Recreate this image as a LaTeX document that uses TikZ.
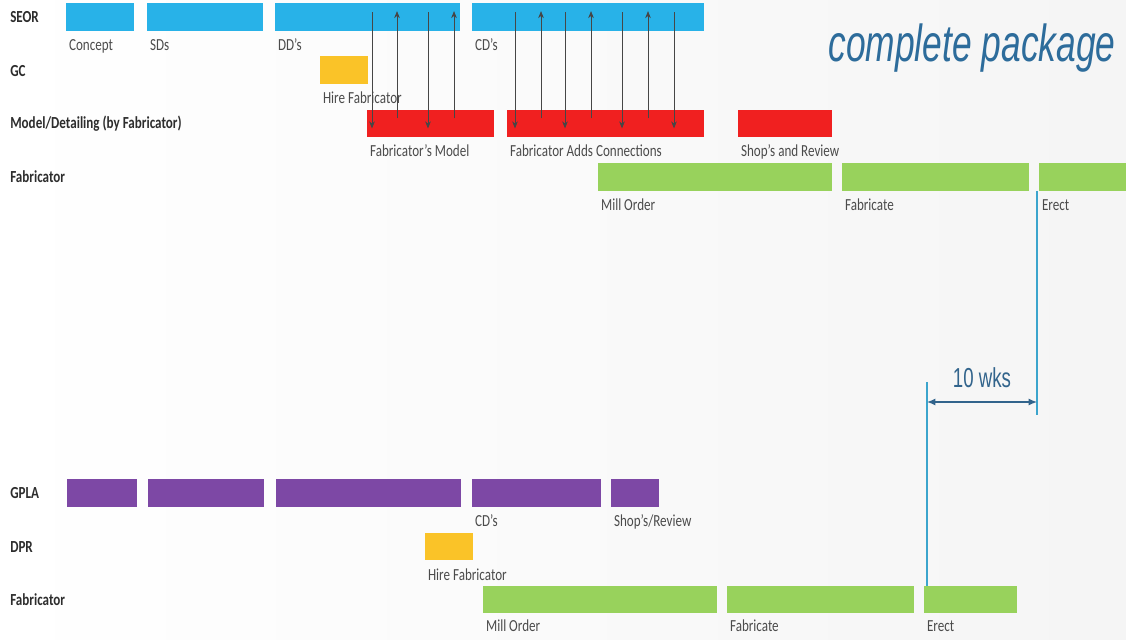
\documentclass[tikz,border=0pt]{standalone}
\usepackage{fontspec}
\setmainfont{Carlito}[FakeStretch=0.775]
\newfontfamily\bigfont{Liberation Sans}[FakeStretch=0.68]
\usepackage{tikz}
\usetikzlibrary{arrows.meta, positioning}
\definecolor{seorblue}{RGB}{40,178,232}
\definecolor{gcyellow}{RGB}{250,195,40}
\definecolor{modelred}{RGB}{240,32,32}
\definecolor{fabgreen}{RGB}{152,210,92}
\definecolor{gplapurple}{RGB}{125,72,165}
\definecolor{rowgray}{RGB}{45,45,45}
\definecolor{labelgray}{RGB}{75,75,75}
\definecolor{linkgray}{RGB}{70,70,70}
\definecolor{guideblue}{RGB}{60,165,205}
\definecolor{dimblue}{RGB}{50,100,140}
\definecolor{titleblue}{RGB}{45,108,155}
\tikzset{
    taskbar/.style={rectangle, anchor=west, minimum height=0.68cm, inner sep=0pt},
    seorbar/.style={taskbar, fill=seorblue},
    gcbar/.style={taskbar, fill=gcyellow},
    modelbar/.style={taskbar, fill=modelred},
    fabbar/.style={taskbar, fill=fabgreen},
    gplabar/.style={taskbar, fill=gplapurple},
    rowlbl/.style={anchor=west, inner sep=0pt, font=\fontsize{12}{14}\selectfont\bfseries, text=rowgray},
    tasklbl/.style={inner sep=0pt, text height=8pt, text depth=2pt, font=\fontsize{12}{14}\selectfont, text=labelgray},
    link/.style={draw=linkgray, line width=0.5pt, -{Stealth[length=5pt, width=4pt]}},
    guide/.style={draw=guideblue, line width=1pt},
    dimarrow/.style={draw=dimblue, line width=0.9pt, {Latex[length=6pt, width=5pt]}-{Latex[length=6pt, width=5pt]}},
    wkslbl/.style={inner sep=0pt, text=dimblue, font=\bigfont\fontsize{19.5}{22}\selectfont}
}

\begin{document}
\begin{tikzpicture}[x=0.025cm, y=-0.025cm]
    \useasboundingbox (0,0) rectangle (1126,639);
    \shade [left color=white, right color=black!4] (0,0) rectangle (1126,639);
    % Title
    \node (pkg) [text=titleblue, font=\bigfont\itshape\fontsize{37}{40}\selectfont] at (972,48) {complete package};
    % Row labels (top)
    \node (seor_row) [rowlbl] at (10,17) {SEOR};
    \node (gc_row) [rowlbl] at (10,71) {GC};
    \node (model_row) [rowlbl] at (10,124) {Model/Detailing (by Fabricator)};
    \node (fab_row) [rowlbl] at (10,177) {Fabricator};
    % SEOR
    \node (concept) [seorbar, minimum width=1.70cm] at (66,17) {};
    \node (sds) [seorbar, minimum width=2.90cm] at (147,17) {};
    \node (dds) [seorbar, minimum width=4.625cm] at (275,17) {};
    \node (cds) [seorbar, minimum width=5.80cm] at (472,17) {};
    \node (concept_lbl) [tasklbl, below right=6pt and 2pt of concept.south west] {Concept};
    \node (sds_lbl) [tasklbl, below right=6pt and 2pt of sds.south west] {SDs};
    \node (dds_lbl) [tasklbl, below right=6pt and 2pt of dds.south west] {DD's};
    \node (cds_lbl) [tasklbl, below right=6pt and 2pt of cds.south west] {CD's};
    % GC
    \node (hire) [gcbar, minimum width=1.20cm] at (320,70) {};
    \node (hire_lbl) [tasklbl, below right=6pt and 2pt of hire.south west] {Hire Fabricator};
    % Model/Detailing
    \node (fmodel) [modelbar, minimum width=3.175cm] at (367,123.5) {};
    \node (conn) [modelbar, minimum width=4.925cm] at (507,123.5) {};
    \node (shops) [modelbar, minimum width=2.35cm] at (738,123.5) {};
    \node (fmodel_lbl) [tasklbl, below right=5.5pt and 2pt of fmodel.south west] {Fabricator's Model};
    \node (conn_lbl) [tasklbl, below right=5.5pt and 2pt of conn.south west] {Fabricator Adds Connections};
    \node (shops_lbl) [tasklbl, below right=5.5pt and 2pt of shops.south west] {Shop's and Review};
    % Fabricator
    \node (mill) [fabbar, minimum width=5.85cm] at (598,177) {};
    \node (fab) [fabbar, minimum width=4.675cm] at (842,177) {};
    \node (erect) [fabbar, minimum width=2.175cm] at (1039,177) {};
    \node (mill_lbl) [tasklbl, below right=5.5pt and 2pt of mill.south west] {Mill Order};
    \node (fab_lbl) [tasklbl, below right=5.5pt and 2pt of fab.south west] {Fabricate};
    \node (erect_lbl) [tasklbl, below right=5.5pt and 2pt of erect.south west] {Erect};
    % Arrows between SEOR and detailer
    \foreach \x in {372,428}
        \draw [link] ([yshift=-6.4pt]\x,0 |- dds.north) -- ([yshift=6.4pt]\x,0 |- fmodel.south);
    \foreach \x in {397,454}
        \draw [link] ([yshift=13.5pt]\x,0 |- fmodel.south) -- ([yshift=-5.7pt]\x,0 |- dds.north);
    \foreach \x in {515,565,622,674}
        \draw [link] ([yshift=-6.4pt]\x,0 |- cds.north) -- ([yshift=6.4pt]\x,0 |- conn.south);
    \foreach \x in {541,591,648}
        \draw [link] ([yshift=13.5pt]\x,0 |- conn.south) -- ([yshift=-5.7pt]\x,0 |- cds.north);
    % Row labels (bottom)
    \node (gpla_row) [rowlbl] at (10,493) {GPLA};
    \node (dpr_row) [rowlbl] at (10,547) {DPR};
    \node (fab2_row) [rowlbl] at (10,600) {Fabricator};
    % GPLA
    \node (gpla1) [gplabar, minimum width=1.75cm] at (67,493) {};
    \node (gpla2) [gplabar, minimum width=2.90cm] at (148,493) {};
    \node (gpla3) [gplabar, minimum width=4.625cm] at (276,493) {};
    \node (gpla4) [gplabar, minimum width=3.225cm] at (472,493) {};
    \node (gpla5) [gplabar, minimum width=1.20cm] at (611,493) {};
    \node (gpla4_lbl) [tasklbl, below right=6pt and 2pt of gpla4.south west] {CD's};
    \node (gpla5_lbl) [tasklbl, below right=6pt and 2pt of gpla5.south west] {Shop's/Review};
    % DPR
    \node (hire2) [gcbar, minimum width=1.20cm] at (425,546.5) {};
    \node (hire2_lbl) [tasklbl, below right=6pt and 2pt of hire2.south west] {Hire Fabricator};
    % Fabricator
    \node (mill2) [fabbar, minimum width=5.85cm] at (483,599.5) {};
    \node (fab2) [fabbar, minimum width=4.675cm] at (727,599.5) {};
    \node (erect2) [fabbar, minimum width=2.325cm] at (924,599.5) {};
    \node (mill2_lbl) [tasklbl, below right=5pt and 2pt of mill2.south west] {Mill Order};
    \node (fab2_lbl) [tasklbl, below right=5pt and 2pt of fab2.south west] {Fabricate};
    \node (erect2_lbl) [tasklbl, below right=5pt and 2pt of erect2.south west] {Erect};
    % 10 wks gap
    \coordinate (wk_l) at (927,402);
    \coordinate (wk_r) at (1037,402);
    \draw [guide] (wk_r |- erect.south) -- ([yshift=-9pt]wk_r);
    \draw [guide] (wk_l |- erect2.north) -- ([yshift=14pt]wk_l);
    \draw [dimarrow] (wk_l) -- node[wkslbl, above=10pt] {10 wks} (wk_r);
\end{tikzpicture}
\end{document}
